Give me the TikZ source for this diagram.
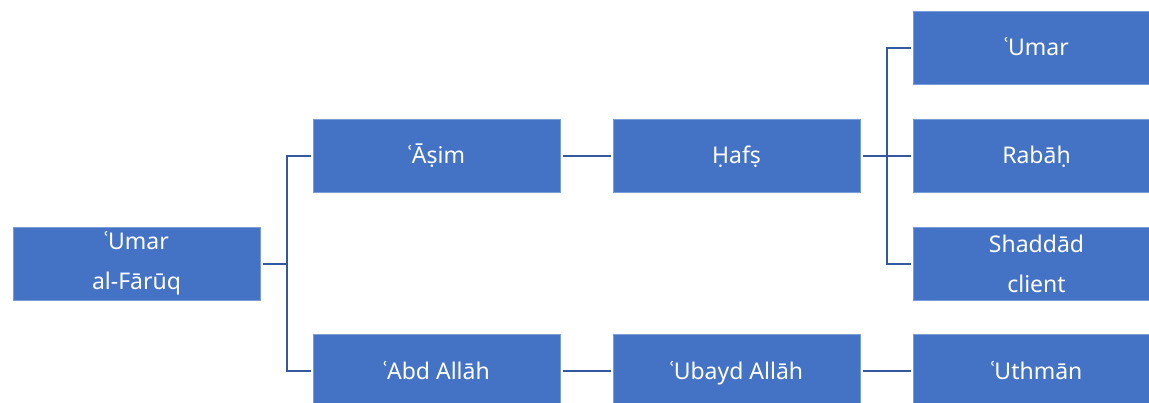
\documentclass[tikz,border=0pt]{standalone}
\usepackage{fontspec}
\setmainfont{Noto Sans}
\usepackage{tikz}

\definecolor{boxblue}{RGB}{68,114,196}
\definecolor{lineblue}{RGB}{52,88,160}

\tikzset{
	person/.style={rectangle, fill=boxblue, draw=boxblue!70!white, line width=0.6pt,
		minimum width=247pt, minimum height=73pt, outer sep=2.5pt,
		text=white, align=center, font=\fontsize{23}{40}\selectfont},
	oneline/.style={person, text height=16.5pt, text depth=0pt},
	link/.style={lineblue, line width=2pt}
}

\begin{document}
\begin{tikzpicture}[x=1pt, y=-1pt]
	\useasboundingbox (0,0) rectangle (1149,402);

	%osoby
	\node[person] (umar) at (136.5,263.5) {ʿUmar\\al-Fārūq};
	\node[oneline] (asim) at (436.5,155.5) {ʿĀṣim};
	\node[oneline] (abd) at (436.5,371) {ʿAbd Allāh};
	\node[oneline] (hafs) at (736.5,155.5) {Ḥafṣ};
	\node[oneline] (ubayd) at (736.5,371) {ʿUbayd Allāh};
	\node[oneline] (umarb) at (1036.5,47.5) {ʿUmar};
	\node[oneline] (rabah) at (1036.5,155.5) {Rabāḥ};
	\node[person] (shaddad) at (1036.5,263.5) {Shaddād\\client};
	\node[oneline] (uthman) at (1036.5,371) {ʿUthmān};

	%linie
	\draw[link] (umar.east) -- ++(24.5,0) coordinate (forka);
	\foreach \n in {asim,abd}
		\draw[link] (forka) |- (\n.west);
	\draw[link] (hafs.east) -- ++(24.5,0) coordinate (forkb);
	\foreach \n in {umarb,rabah,shaddad}
		\draw[link] (forkb) |- (\n.west);
	\draw[link] (asim) -- (hafs);
	\draw[link] (abd) -- (ubayd);
	\draw[link] (ubayd) -- (uthman);
\end{tikzpicture}
\end{document}
